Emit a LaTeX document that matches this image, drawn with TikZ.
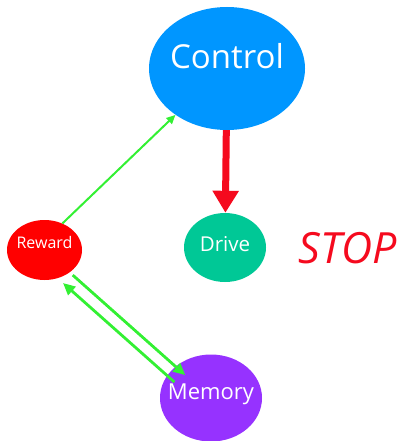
\documentclass[tikz,border=0pt]{standalone}
\usepackage{fontspec}
\setmainfont{Open Sans}
\usepackage{tikz}
\usetikzlibrary{arrows.meta,positioning,calc,shapes}

\definecolor{ctrlblue}{RGB}{0,150,255}
\definecolor{drivegreen}{RGB}{0,200,150}
\definecolor{rewardred}{RGB}{255,0,0}
\definecolor{mempurple}{RGB}{150,50,255}
\definecolor{linkgreen}{RGB}{51,240,51}
\definecolor{stopred}{RGB}{245,10,30}

\newcommand{\fsz}[1]{\fontsize{#1}{#1}\selectfont}

\begin{document}
\begin{tikzpicture}[x=1pt,y=-1pt,
  bubble/.style={ellipse,draw=none,inner xsep=-10pt,inner ysep=0pt,text=white},
  thinlink/.style={draw=linkgreen,line width=2pt,-{Triangle[length=9pt,width=8pt]}},
  pairlink/.style={draw=linkgreen,line width=2.8pt,-{Triangle[length=12pt,width=11pt]}},
  stoparrow/.style={draw=stopred,line width=7pt,-{Triangle[length=22pt,width=25pt]}}]

  \useasboundingbox (0,0) rectangle (403,441);

  % the four bubbles
  \node[bubble,fill=ctrlblue,minimum width=156pt,minimum height=123pt,
        font=\fsz{33pt},text depth=26pt] (control) at (227,68.5) {Control};
  \node[bubble,fill=drivegreen,minimum width=82pt,minimum height=69pt,
        font=\fsz{20.5pt},text depth=7pt] (drive) at (225,247.5) {Drive};
  \node[bubble,fill=mempurple,minimum width=102pt,minimum height=87pt,
        font=\fsz{22pt},text depth=13pt] (memory) at (211,398) {Memory};
  \node[bubble,fill=rewardred,minimum width=75pt,minimum height=60pt,
        font=\fsz{16pt},text depth=16pt] (reward) at (44.5,250) {Reward};

  \node[text=stopred,font=\fsz{43pt}\itshape] (stop) at (348,248) {STOP};

  % links
  \draw[stoparrow] (control) -- (drive);
  \draw[thinlink] (reward.56) -- (control.222);
  \draw[pairlink,shorten <=4pt,shorten >=-13pt] (reward) -- (memory);
  \draw[pairlink,transform canvas={shift={(-8.2,9.3)}},
        shorten <=-9.5pt,shorten >=2pt] (memory) -- (reward);

\end{tikzpicture}
\end{document}
